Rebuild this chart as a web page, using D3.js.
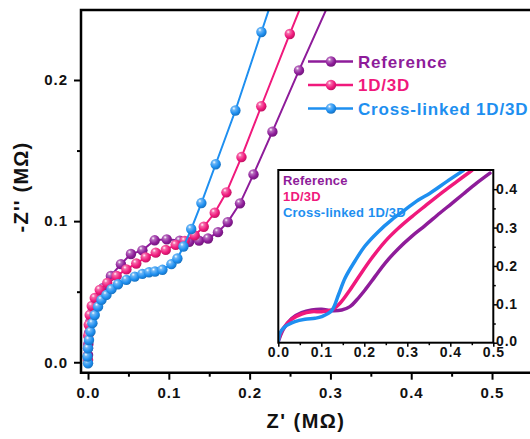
<!DOCTYPE html>
<html>
<head>
<meta charset="utf-8">
<script src="https://cdn.jsdelivr.net/npm/d3@7"></script>
<style>
  body { margin: 0; background: #fff; }
  text { font-family: "Liberation Sans", Arial, sans-serif; font-weight: bold; }
</style>
</head>
<body>
<div id="chart"></div>
<script>
// series names and colours
var names = ["Reference", "1D/3D", "Cross-linked 1D/3D"];
var colors = ["#8e1c9a", "#f0197c", "#1e8ff0"];

// main plot
var refX = [0, 0.0004, 0.0012, 0.0027, 0.0058, 0.0114, 0.0186, 0.0283, 0.0407, 0.0531, 0.0673, 0.0825, 0.0974, 0.1135, 0.1252, 0.1374, 0.1485, 0.1608, 0.1729, 0.1881, 0.2048, 0.2282, 0.2611, 0.33];
var refY = [0.0052, 0.013, 0.0208, 0.0286, 0.0364, 0.0442, 0.0527, 0.0612, 0.0695, 0.0767, 0.0793, 0.0864, 0.0871, 0.0862, 0.0853, 0.0862, 0.0877, 0.0922, 0.0993, 0.1126, 0.1331, 0.1634, 0.2068, 0.295];
var odX = [0, 0, 0.0002, 0.0009, 0.0021, 0.0046, 0.0083, 0.0145, 0.0238, 0.0355, 0.0475, 0.0597, 0.0714, 0.0838, 0.0962, 0.1085, 0.1197, 0.132, 0.1432, 0.1568, 0.1713, 0.1899, 0.2144, 0.2497, 0.29];
var odY = [0.0016, 0.0101, 0.0187, 0.0265, 0.0335, 0.0399, 0.0456, 0.0513, 0.0562, 0.0612, 0.0658, 0.07, 0.0743, 0.0777, 0.0796, 0.0832, 0.086, 0.0899, 0.096, 0.1059, 0.1204, 0.1454, 0.1814, 0.2326, 0.29];
var clX = [0, -0.0007, 0, 0.0012, 0.003, 0.0054, 0.0083, 0.0124, 0.0166, 0.0228, 0.029, 0.0371, 0.0475, 0.0578, 0.0673, 0.0755, 0.0829, 0.0921, 0.1032, 0.1106, 0.1181, 0.1277, 0.1403, 0.158, 0.1824, 0.2146, 0.247];
var clY = [-0.0007, 0.004, 0.0099, 0.0158, 0.0217, 0.0277, 0.0335, 0.0394, 0.0442, 0.0477, 0.0518, 0.0553, 0.0584, 0.0607, 0.0626, 0.0638, 0.0643, 0.0655, 0.0695, 0.0735, 0.082, 0.0944, 0.1128, 0.1403, 0.1784, 0.234, 0.29];

// inset curves
var inRefX = [0, 0.0116, 0.031, 0.0543, 0.0776, 0.1009, 0.1241, 0.1474, 0.1667, 0.1822, 0.2016, 0.2248, 0.2481, 0.2791, 0.3102, 0.3412, 0.376, 0.4031, 0.4302, 0.4612, 0.4923];
var inRefY = [0.003, 0.035, 0.063, 0.0782, 0.0852, 0.087, 0.0835, 0.0852, 0.0939, 0.1113, 0.1374, 0.1721, 0.2069, 0.245, 0.277, 0.305, 0.338, 0.3625, 0.3875, 0.4157, 0.4417];
var inOdX = [0, 0.0116, 0.031, 0.0543, 0.0776, 0.1009, 0.1241, 0.1435, 0.1667, 0.19, 0.2171, 0.2481, 0.2791, 0.3102, 0.3412, 0.3837, 0.4149, 0.4498];
var inOdY = [0.007, 0.0375, 0.061, 0.0748, 0.0808, 0.0808, 0.0853, 0.1027, 0.1374, 0.1765, 0.22, 0.2634, 0.298, 0.328, 0.356, 0.3937, 0.4198, 0.4485];
var inClX = [0, 0.004, 0.0156, 0.0388, 0.0621, 0.0853, 0.1009, 0.1241, 0.14, 0.1551, 0.1784, 0.2016, 0.2326, 0.2636, 0.2946, 0.3256, 0.3528, 0.3916, 0.4302];
var inClY = [0.003, 0.0245, 0.0417, 0.0548, 0.061, 0.0636, 0.0678, 0.0835, 0.125, 0.168, 0.213, 0.252, 0.2894, 0.32, 0.346, 0.372, 0.3896, 0.4198, 0.4485];

var mainTicks = [0, 0.1, 0.2, 0.3, 0.4, 0.5];
var mainYTicks = [0, 0.1, 0.2];
var insetXTicks = [0, 0.1, 0.2, 0.3, 0.4, 0.5];
var insetYTicks = [0, 0.1, 0.2, 0.3, 0.4];

var W = 530, H = 439;
var svg = d3.select("#chart").append("svg").attr("width", W).attr("height", H);

var x = d3.scaleLinear().domain([-0.0087, 0.56]).range([81, 540.5]);
var y = d3.scaleLinear().domain([-0.0074, 0.2496]).range([372.7, 10]);

function zip(xs, ys) { return xs.map(function (v, i) { return { x: v, y: ys[i] }; }); }
var mainData = [zip(refX, refY), zip(odX, odY), zip(clX, clY)];
var insetData = [zip(inRefX, inRefY), zip(inOdX, inOdY), zip(inClX, inClY)];

// glossy ball gradients
var defs = svg.append("defs");
colors.forEach(function (c, i) {
  var g = defs.append("radialGradient").attr("id", "ball" + i)
    .attr("cx", "38%").attr("cy", "35%").attr("r", "65%").attr("fx", "35%").attr("fy", "30%");
  g.append("stop").attr("offset", "0%").attr("stop-color", "#ffffff");
  g.append("stop").attr("offset", "25%").attr("stop-color", d3.interpolateRgb(c, "#fff")(0.35));
  g.append("stop").attr("offset", "70%").attr("stop-color", c);
  g.append("stop").attr("offset", "100%").attr("stop-color", d3.color(c).darker(0.6));
});
defs.append("clipPath").attr("id", "mainClip").append("rect")
  .attr("x", x.range()[0]).attr("y", y.range()[1])
  .attr("width", W - x.range()[0]).attr("height", y.range()[0] - y.range()[1]);

// data
var plot = svg.append("g").attr("clip-path", "url(#mainClip)");
var line = d3.line().x(d => x(d.x)).y(d => y(d.y));
mainData.forEach(function (pts, i) {
  var g = plot.append("g");
  g.append("path").datum(pts).attr("d", line)
    .attr("fill", "none").attr("stroke", colors[i]).attr("stroke-width", 2);
  g.selectAll("circle").data(pts).enter().append("circle")
    .attr("cx", d => x(d.x)).attr("cy", d => y(d.y)).attr("r", 5.2)
    .attr("fill", "url(#ball" + i + ")");
});

// axes
var fmt = d3.format(".1f");
var xAxis = svg.append("g").attr("transform", "translate(0," + y.range()[0] + ")")
  .call(d3.axisBottom(x).tickValues(mainTicks).tickFormat(fmt).tickSize(7).tickSizeOuter(0));
var xMinor = svg.append("g").attr("transform", "translate(0," + y.range()[0] + ")")
  .call(d3.axisBottom(x).tickValues([0.05, 0.15, 0.25, 0.35, 0.45]).tickFormat("").tickSize(4));
var yAxis = svg.append("g").attr("transform", "translate(" + x.range()[0] + ",0)")
  .call(d3.axisLeft(y).tickValues(mainYTicks).tickFormat(fmt).tickSize(7).tickSizeOuter(0));
var yMinor = svg.append("g").attr("transform", "translate(" + x.range()[0] + ",0)")
  .call(d3.axisLeft(y).tickValues([0.05, 0.15]).tickFormat("").tickSize(4));
[xAxis, xMinor, yAxis, yMinor].forEach(function (a) {
  a.select(".domain").remove();
  a.selectAll("line").attr("stroke", "#000").attr("stroke-width", 2);
  a.selectAll("text").attr("font-size", 15).attr("letter-spacing", 1).attr("fill", "#111");
});
xAxis.selectAll("text").attr("dy", "1.05em");
yAxis.selectAll("text").attr("dx", "-0.2em");

// frame: left, bottom, top
svg.append("path")
  .attr("d", "M" + W + "," + y.range()[1] + "H" + x.range()[0] + "V" + y.range()[0] + "H" + W)
  .attr("fill", "none").attr("stroke", "#000").attr("stroke-width", 2.5);

// axis titles
svg.append("text").attr("x", 306).attr("y", 428).attr("text-anchor", "middle")
  .attr("font-size", 20).attr("letter-spacing", 1.5).attr("fill", "#111").text("Z' (M\u03A9)");
svg.append("text").attr("transform", "translate(28,187) rotate(-90)").attr("text-anchor", "middle")
  .attr("font-size", 20).attr("letter-spacing", 1.2).attr("fill", "#111").text("-Z'' (M\u03A9)");

// main legend
var legY = [61.5, 85, 108.5];
names.forEach(function (n, i) {
  var g = svg.append("g");
  g.append("line").attr("x1", 308).attr("x2", 353).attr("y1", legY[i]).attr("y2", legY[i])
    .attr("stroke", colors[i]).attr("stroke-width", 2.5);
  g.append("circle").attr("cx", 331).attr("cy", legY[i]).attr("r", 5.2).attr("fill", "url(#ball" + i + ")");
  g.append("text").attr("x", 358).attr("y", legY[i]).attr("dy", "0.36em")
    .attr("font-size", 17).attr("letter-spacing", 0.8).attr("fill", colors[i]).text(n);
});

// inset
var ix = d3.scaleLinear().domain([0, 0.5]).range([278.3, 493.3]);
var iy = d3.scaleLinear().domain([0, 0.45]).range([342.7, 170]);
defs.append("clipPath").attr("id", "insetClip").append("rect")
  .attr("x", ix.range()[0]).attr("y", iy.range()[1])
  .attr("width", ix.range()[1] - ix.range()[0]).attr("height", iy.range()[0] - iy.range()[1]);
var inset = svg.append("g");
inset.append("rect").attr("x", ix.range()[0]).attr("y", iy.range()[1])
  .attr("width", ix.range()[1] - ix.range()[0]).attr("height", iy.range()[0] - iy.range()[1])
  .attr("fill", "#fff");
var iline = d3.line().x(d => ix(d.x)).y(d => iy(d.y)).curve(d3.curveCatmullRom);
var icurves = inset.append("g").attr("clip-path", "url(#insetClip)");
insetData.forEach(function (pts, i) {
  icurves.append("path").datum(pts).attr("d", iline)
    .attr("fill", "none").attr("stroke", colors[i]).attr("stroke-width", 3.5)
    .attr("stroke-linejoin", "round").attr("stroke-linecap", "round");
});
inset.append("rect").attr("x", ix.range()[0]).attr("y", iy.range()[1])
  .attr("width", ix.range()[1] - ix.range()[0]).attr("height", iy.range()[0] - iy.range()[1])
  .attr("fill", "none").attr("stroke", "#000").attr("stroke-width", 2);

var ixAxis = inset.append("g").attr("transform", "translate(0," + iy.range()[0] + ")")
  .call(d3.axisBottom(ix).tickValues(insetXTicks).tickFormat(fmt).tickSize(4).tickSizeOuter(0));
var ixMinor = inset.append("g").attr("transform", "translate(0," + iy.range()[0] + ")")
  .call(d3.axisBottom(ix).tickValues([0.05, 0.15, 0.25, 0.35, 0.45]).tickFormat("").tickSize(2.5));
var iyAxis = inset.append("g").attr("transform", "translate(" + ix.range()[1] + ",0)")
  .call(d3.axisRight(iy).tickValues(insetYTicks).tickFormat(fmt).tickSize(4).tickSizeOuter(0));
var iyMinor = inset.append("g").attr("transform", "translate(" + ix.range()[1] + ",0)")
  .call(d3.axisRight(iy).tickValues([0.05, 0.15, 0.25, 0.35]).tickFormat("").tickSize(2.5));
[ixAxis, ixMinor, iyAxis, iyMinor].forEach(function (a) {
  a.select(".domain").remove();
  a.selectAll("line").attr("stroke", "#000").attr("stroke-width", 1.5);
  a.selectAll("text").attr("font-size", 14).attr("letter-spacing", 0.8).attr("fill", "#111");
});
ixAxis.selectAll("text").attr("dy", "0.5em");
iyAxis.selectAll("text").attr("dx", "-0.3em").attr("dy", function (d) { return d === 0 ? "0.2em" : "0.32em"; });

// inset legend (text only)
var inLegY = [180.7, 196.7, 212.3];
names.forEach(function (n, i) {
  inset.append("text").attr("x", 283).attr("y", inLegY[i]).attr("dy", "0.36em")
    .attr("font-size", 13).attr("letter-spacing", 0.2).attr("fill", colors[i]).text(n);
});
</script>
</body>
</html>
